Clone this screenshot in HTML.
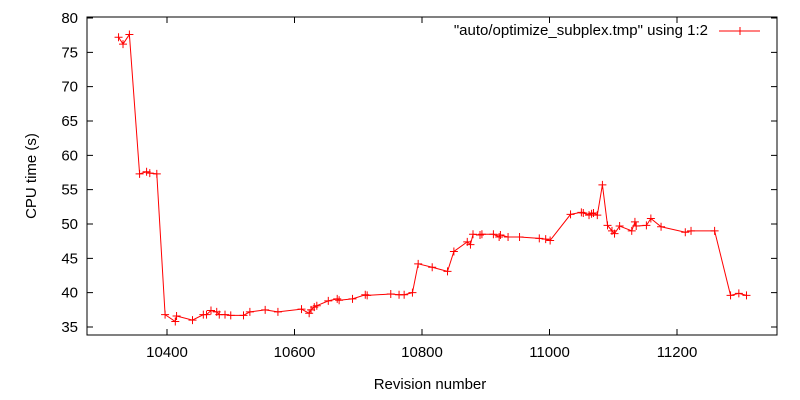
<!DOCTYPE html>
<html><head><meta charset="utf-8"><style>
body{margin:0;background:#fff}
svg{display:block;font-family:"Liberation Sans",Arial,sans-serif}
</style></head><body>
<svg id="chart" width="800" height="400" xmlns="http://www.w3.org/2000/svg">
<rect width="800" height="400" fill="#fff"/>
<g id="axes"></g>
<g id="series"></g>
<text x="708" y="35" font-size="15" text-anchor="end">"auto/optimize_subplex.tmp" using 1:2</text>
<line x1="719" y1="31" x2="760" y2="31" stroke="#f00" stroke-width="1"/>
<path d="M736 31h8M740 27v8" stroke="#f00" stroke-width="1"/>
<text x="430" y="389" font-size="15" text-anchor="middle">Revision number</text>
<text transform="translate(36,176) rotate(-90)" font-size="15" text-anchor="middle">CPU time (s)</text>
</svg>
<script>
const revisions=[10324,10331,10341,10357,10368,10373,10384,10397,10413,10415,10440,10457,10462,10469,10478,10482,10491,10500,10520,10530,10554,10574,10611,10623,10626,10631,10635,10653,10667,10670,10691,10711,10714,10751,10764,10772,10785,10794,10816,10840,10850,10871,10876,10880,10891,10894,10912,10921,10923,10935,10953,10984,10994,11001,11033,11050,11053,11062,11066,11069,11075,11083,11091,11098,11102,11110,11129,11134,11136,11152,11159,11175,11213,11222,11259,11284,11297,11309];
const cpuTimes=[77.2,76.2,77.6,57.3,57.6,57.4,57.3,36.8,35.8,36.6,36.0,36.8,36.8,37.4,37.2,36.8,36.8,36.7,36.7,37.2,37.5,37.2,37.6,37.0,37.5,37.9,38.1,38.8,39.1,38.9,39.1,39.7,39.6,39.8,39.7,39.7,40.0,44.2,43.7,43.1,46.0,47.4,47.0,48.5,48.4,48.5,48.5,48.1,48.4,48.1,48.1,47.9,47.8,47.6,51.4,51.7,51.6,51.3,51.5,51.6,51.3,55.7,49.8,49.0,48.6,49.7,49.0,50.3,49.7,49.8,50.8,49.6,48.8,49.0,49.0,39.6,39.9,39.6];
const xTicks=[10400,10600,10800,11000,11200];
const yTicks=[35,40,45,50,55,60,65,70,75,80];
const L=87,R=777,T=17,B=335;
function xs(v){return 167+(v-10400)*0.6375;}
function ys(v){return 327-(v-35)*6.867;}
const NS="http://www.w3.org/2000/svg";
const axes=document.getElementById('axes'),ser=document.getElementById('series');
function mk(tag,attrs,parent){const e=document.createElementNS(NS,tag);for(const k in attrs)e.setAttribute(k,attrs[k]);parent.appendChild(e);return e;}
const frame=mk('rect',{x:L,y:T,width:R-L,height:B-T,fill:'none',stroke:'#000','stroke-width':1},axes);


xTicks.forEach(v=>{const x=xs(v);
 const t=mk('path',{d:`M${x} ${B}v-6M${x} ${T}v6`,stroke:'#000'},axes);
 
 
 const l=mk('text',{x:x,y:B+22,'font-size':15,'text-anchor':'middle'},axes);l.textContent=v;
 
 
});
yTicks.forEach(v=>{const y=ys(v);
 const t=mk('path',{d:`M${L} ${y}h6M${R} ${y}h-6`,stroke:'#000'},axes);
 
 
 const l=mk('text',{x:L-9,y:y+5,'font-size':15,'text-anchor':'end'},axes);l.textContent=v;
 
 
});
const pts=revisions.map((r,i)=>[xs(r),ys(cpuTimes[i])]);
const line=mk('polyline',{points:pts.map(p=>p.join(',')).join(' '),fill:'none',stroke:'#f00','stroke-width':1},ser);


pts.forEach(p=>{
 const m=mk('path',{d:`M${p[0]-4} ${p[1]}h8M${p[0]} ${p[1]-4}v8`,stroke:'#f00','stroke-width':1},ser);
 
 
});
</script>
</body></html>
